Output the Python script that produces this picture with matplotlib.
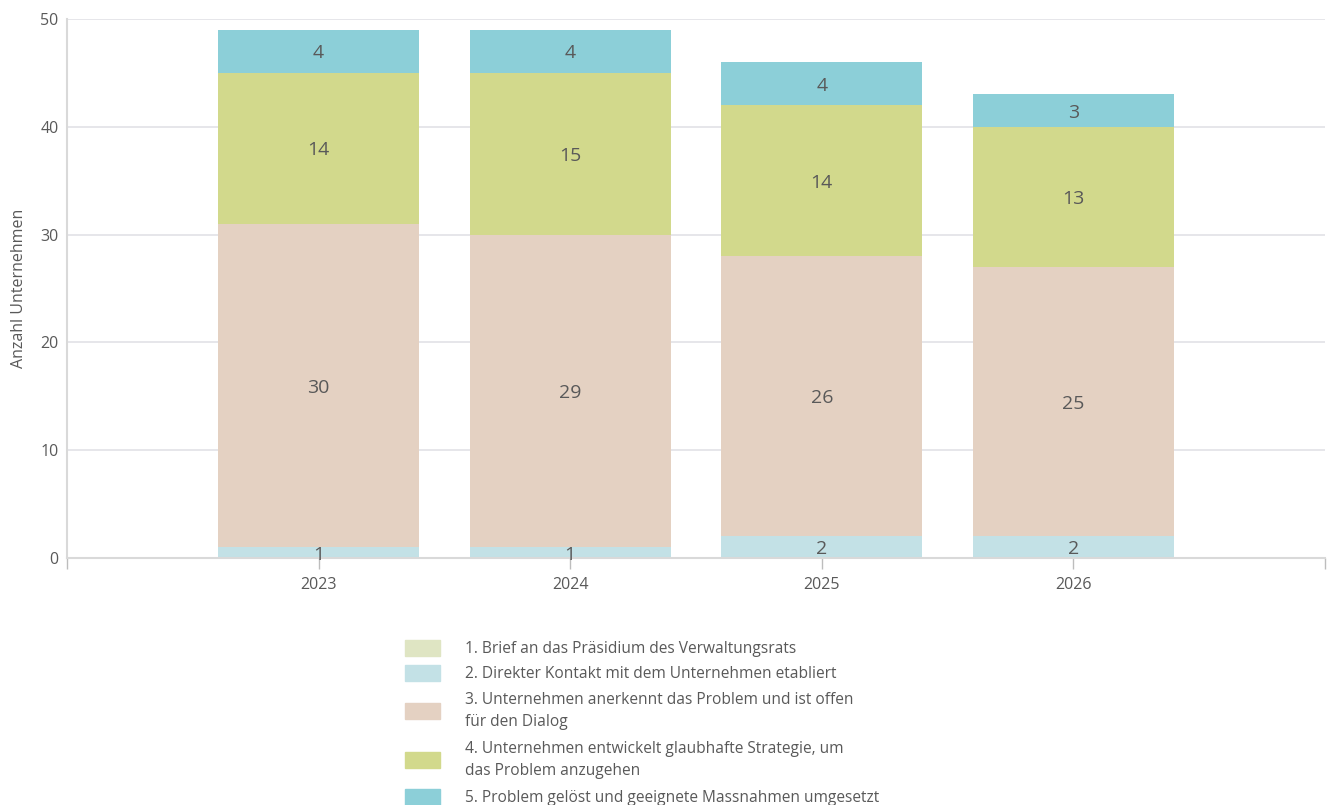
import numpy as np
import matplotlib
matplotlib.use("Agg")
import matplotlib.pyplot as plt
from matplotlib.patches import Rectangle

plt.rcParams["font.family"] = ["Open Sans", "DejaVu Sans"]

years = ["2023", "2024", "2025", "2026"]
labels = [
    "1. Brief an das Präsidium des Verwaltungsrats",
    "2. Direkter Kontakt mit dem Unternehmen etabliert",
    "3. Unternehmen anerkennt das Problem und ist offen\nfür den Dialog",
    "4. Unternehmen entwickelt glaubhafte Strategie, um\ndas Problem anzugehen",
    "5. Problem gelöst und geeignete Massnahmen umgesetzt",
]
brief = [0, 0, 0, 0]
kontakt = [1, 1, 2, 2]
anerkennt = [30, 29, 26, 25]
strategie = [14, 15, 14, 13]
geloest = [4, 4, 4, 3]
series = [brief, kontakt, anerkennt, strategie, geloest]
colors = ["#dfe5c3", "#c3e1e6", "#e4d1c2", "#d2d98c", "#8ccfd8"]

TXT = "#595959"
GRID = "#e1e1e6"

fig = plt.figure(figsize=(13.3, 8.05), dpi=100)
ax = fig.add_axes([0.0504, 0.3068, 0.9458, 0.6696])

x = np.arange(len(years))
bottom = np.zeros(len(years))
for vals, col in zip(series, colors):
    vals = np.array(vals, dtype=float)
    ax.bar(x, vals, 0.8, bottom=bottom, color=col, zorder=2)
    for xi, v, b in zip(x, vals, bottom):
        if v > 0:
            ax.text(xi, b + v / 2, f"{int(v)}", ha="center", va="center_baseline",
                    fontsize=14, color=TXT, zorder=3)
    bottom += vals

ax.set_xlim(-1, 4)
ax.set_ylim(0, 50)
ax.set_yticks(range(0, 51, 10))
ax.set_xticks([-1, 0, 1, 2, 3, 4])
ax.set_xticklabels([""] + years + [""])
ax.grid(axis="y", color=GRID, linewidth=1.2, zorder=0)
ax.set_axisbelow(True)
for s in ["top", "right"]:
    ax.spines[s].set_visible(False)
for s in ["left", "bottom"]:
    ax.spines[s].set_color("#d9d9d9")
    ax.spines[s].set_linewidth(1.5)
ax.tick_params(axis="y", length=0, pad=6, labelsize=11.5, labelcolor=TXT)
ax.tick_params(axis="x", length=8, width=1, color="#bdbdbd", pad=6,
               labelsize=11.5, labelcolor=TXT)
ax.set_ylabel("Anzahl Unternehmen", fontsize=11.5, color=TXT, labelpad=10)

# legend, drawn by hand so multi-line entries match the layout
W, H = 1330.0, 805.0
row_tops = [640, 665, 691, 740, 789]
for lab, col, top in zip(labels, colors, row_tops):
    nlines = lab.count("\n") + 1
    block = 23 * nlines
    cy = top + block / 2 - 3 if nlines > 1 else top + 8
    fig.patches.append(Rectangle((405 / W, 1 - (cy + 8) / H), 35 / W, 16 / H,
                                 transform=fig.transFigure, color=col))
    fig.text(465 / W, 1 - (top + 1) / H, lab, ha="left", va="top",
             fontsize=11.2, color=TXT, linespacing=1.5)

fig.savefig("out.png", dpi=100)
